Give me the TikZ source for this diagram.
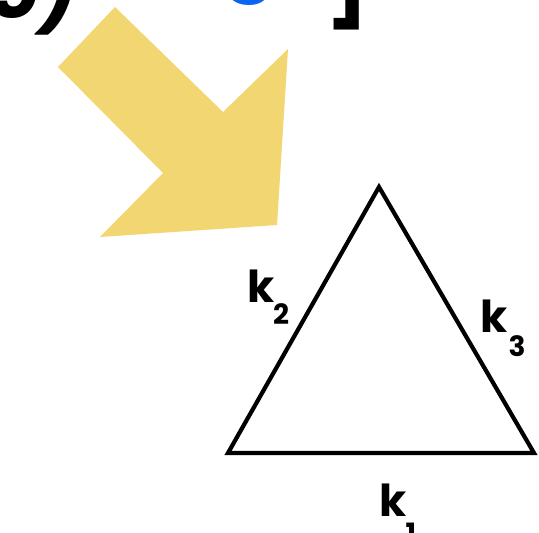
\documentclass[tikz,border=0pt]{standalone}
\usepackage{fontspec}
\setmainfont{Poppins}
\definecolor{arrowyellow}{HTML}{F1D672}
\definecolor{topblue}{HTML}{0A66F0}
\begin{document}
\begin{tikzpicture}[x=1pt,y=-1pt,
  lbl/.style={inner sep=0pt, font=\fontsize{44}{44}\selectfont\bfseries},
  sub/.style={inner sep=0pt, font=\fontsize{28}{28}\selectfont\bfseries},
  edge/.style={line width=4.2pt, line join=miter, line cap=round}]
\useasboundingbox (0,0) rectangle (539,533);
% cut-off title text at the top
\begin{scope}
\clip (0,0) rectangle (539,40);
\node[anchor=base west, inner sep=0pt, font=\fontsize{80}{80}\selectfont\bfseries\itshape] (t1) at (-12,18) {5)};
\node[anchor=base, inner sep=0pt, text=topblue, font=\fontsize{80}{80}\selectfont\bfseries] (t2) at (250,-17) {g};
\node[anchor=base east, inner sep=0pt, font=\fontsize{84}{84}\selectfont\bfseries] (t3) at (370,12) {]};
\end{scope}
% yellow arrow
\fill[arrowyellow] (115,7) -- (223,112) -- (288,49) -- (277,225) -- (100,237) -- (163,173) -- (58,67) -- cycle;
% triangle
\coordinate (A) at (228,453);
\coordinate (B) at (534,453);
\coordinate (C) at (379,187);
\draw[edge] (A) -- (B) -- (C) -- cycle;
% labels
\node[lbl, anchor=base] (k2) at (261,302) {k};
\node[sub, anchor=base] (s2) at (281,324) {2};
\node[lbl, anchor=base] (k3) at (494,332) {k};
\node[sub, anchor=base] (s3) at (517,356) {3};
\node[lbl, anchor=base] (k1) at (393,516) {k};
\node[sub, anchor=base] (s1) at (411,543) {1};
\end{tikzpicture}
\end{document}
